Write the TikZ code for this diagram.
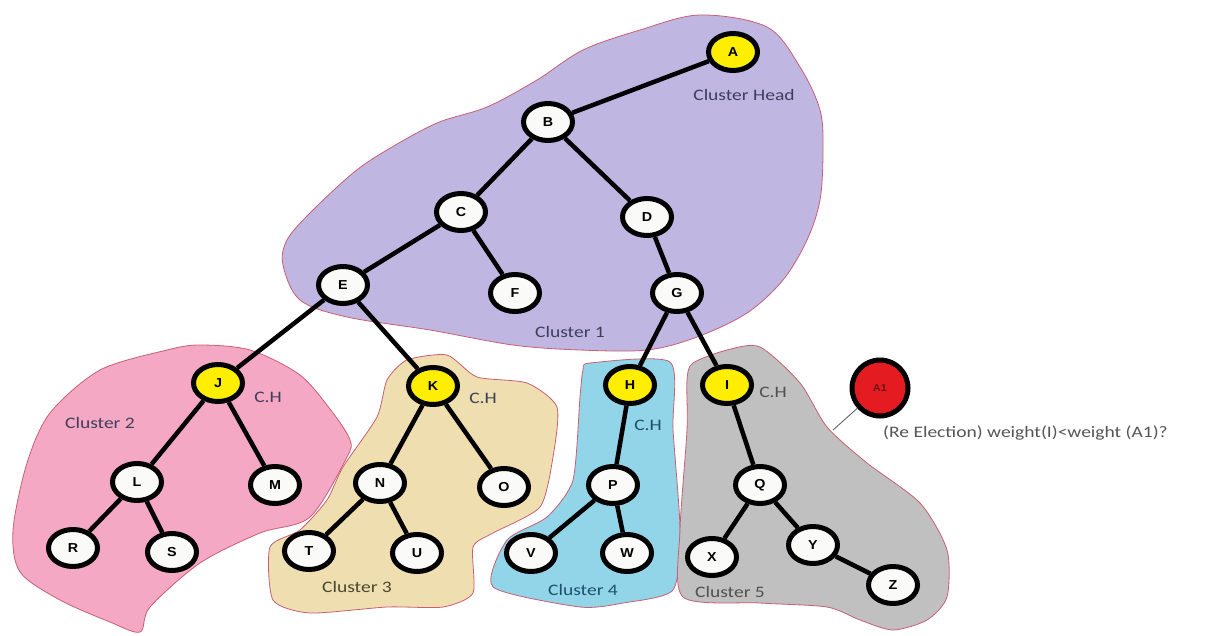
\documentclass[tikz,border=0pt]{standalone}
\usepackage{fontspec}
\setmainfont{Carlito}
\newfontfamily\lblfont[FakeStretch=1.22]{Carlito}
\newfontfamily\nodefont[FakeStretch=1.1]{Liberation Sans}
\usetikzlibrary{shapes.geometric}
\definecolor{cpurple}{RGB}{192,182,226}
\definecolor{cpink}{RGB}{245,168,196}
\definecolor{ctan}{RGB}{238,222,176}
\definecolor{cblue}{RGB}{146,212,232}
\definecolor{cgray}{RGB}{192,192,192}
\definecolor{regionline}{RGB}{200,95,115}
\definecolor{nodewhite}{RGB}{250,250,248}
\definecolor{chyellow}{RGB}{255,238,0}
\definecolor{cred}{RGB}{228,28,34}
\definecolor{lbltext}{RGB}{62,62,92}
\definecolor{notetext}{RGB}{85,85,85}
\begin{document}
\begin{tikzpicture}[x=1pt,y=-1pt,
  tnode/.style={ellipse, draw=black, line width=5pt, fill=nodewhite,
    minimum width=49pt, minimum height=37pt, inner sep=0pt,
    font=\nodefont\bfseries\fontsize{13}{13}\selectfont},
  chnode/.style={tnode, fill=chyellow},
  edge/.style={line width=4.5pt, black},
  region/.style={draw=regionline, line width=0.8pt},
  lbl/.style={font=\lblfont\fontsize{16}{18}\selectfont, text=lbltext, inner sep=0pt},
  note/.style={font=\lblfont\fontsize{16}{18}\selectfont, text=notetext, inner sep=0pt}]
\useasboundingbox (0,0) rectangle (1229,635);
\fill[white] (0,0) rectangle (1229,635);

% cluster regions
\filldraw[region, fill=cpurple] plot[smooth cycle, tension=0.55] coordinates {
  (283,265) (287,240) (310,213) (353,173) (387,150) (437,123) (487,107)
  (537,80) (583,50) (640,30) (700,15) (767,27) (800,67) (820,110) (823,150)
  (820,200) (807,240) (783,280) (747,313) (697,337) (647,350) (580,350)
  (513,345) (430,330) (347,317) (300,300)};
\filldraw[region, fill=cpink] plot[smooth cycle, tension=0.5] coordinates {
  (167,350) (200,345) (250,350) (300,375) (333,413) (350,440) (347,457)
  (310,517) (260,533) (200,563) (150,607) (140,632) (110,622) (60,600)
  (20,572) (13,530) (27,463) (50,413) (100,370)};
\filldraw[region, fill=ctan] plot[smooth cycle, tension=0.4] coordinates {
  (387,380) (407,360) (447,355) (477,377) (527,383) (557,407) (553,457)
  (540,507) (493,533) (473,547) (473,593) (443,607) (387,607) (310,613)
  (273,600) (270,547) (300,530) (327,500) (343,467) (377,417)};
\filldraw[region, fill=cblue] plot[smooth cycle, tension=0.4] coordinates {
  (583,370) (590,363) (670,362) (673,430) (680,530) (673,590) (623,603)
  (580,607) (493,587) (507,540) (547,517) (573,480) (580,397)};
\filldraw[region, fill=cgray] plot[smooth cycle, tension=0.45] coordinates {
  (693,363) (727,350) (760,347) (800,383) (827,427) (867,463) (920,503)
  (947,550) (947,597) (927,620) (893,630) (860,620) (827,607) (760,603)
  (683,597) (680,530) (687,430) (687,380)};

% nodes
\node[chnode] (A) at (733,52) {A};
\node[tnode] (B) at (548,122) {B};
\node[tnode] (C) at (461,212) {C};
\node[tnode] (D) at (647,217) {D};
\node[tnode] (E) at (343,285) {E};
\node[tnode] (F) at (515,293) {F};
\node[tnode] (G) at (677,293) {G};
\node[chnode] (J) at (218,383) {J};
\node[chnode] (K) at (433,386) {K};
\node[chnode] (H) at (630,385) {H};
\node[chnode] (I) at (727,385) {I};
\node[tnode] (L) at (137,482) {L};
\node[tnode] (M) at (275,485) {M};
\node[tnode] (N) at (380,483) {N};
\node[tnode] (O) at (504,487) {O};
\node[tnode] (P) at (613,485) {P};
\node[tnode] (Q) at (760,485) {Q};
\node[tnode] (R) at (73,548) {R};
\node[tnode] (S) at (172,552) {S};
\node[tnode] (T) at (309,551) {T};
\node[tnode] (U) at (417,553) {U};
\node[tnode] (V) at (531,553) {V};
\node[tnode] (W) at (627,553) {W};
\node[tnode] (X) at (712,557) {X};
\node[tnode] (Y) at (813,545) {Y};
\node[tnode] (Z) at (893,585) {Z};
\node[circle, draw=black, line width=5pt, fill=cred, minimum size=56pt, inner sep=0pt,
  font=\nodefont\bfseries\fontsize{10}{10}\selectfont, text={rgb,255:red,110;green,20;blue,20}]
  (A1) at (880,388) {A1};

% edges
\foreach \a/\b in {A/B, B/C, B/D, C/E, C/F, D/G, E/J, E/K, G/H, G/I,
  J/L, J/M, L/R, L/S, K/N, K/O, N/T, N/U, H/P, P/V, P/W, I/Q, Q/X, Q/Y, Y/Z}
  \draw[edge] (\a) -- (\b);

% annotation pointer
\coordinate (a1tip) at (833,430);
\draw[line width=0.8pt, notetext] (A1) -- (a1tip);

% labels
\node[lbl] (lhead) at (744,95) {Cluster Head};
\node[lbl] (l1) at (570,332) {Cluster 1};
\node[lbl] (l2) at (100,423) {Cluster 2};
\node[lbl, text={rgb,255:red,72;green,72;blue,48}] (l3) at (357,587) {Cluster 3};
\node[lbl, text={rgb,255:red,30;green,80;blue,110}] (l4) at (583,590) {Cluster 4};
\node[lbl, text={rgb,255:red,80;green,80;blue,80}] (l5) at (730,592) {Cluster 5};
\node[lbl] (chJ) at (268,397) {C.H};
\node[lbl] (chK) at (483,398) {C.H};
\node[lbl, text={rgb,255:red,30;green,80;blue,110}] (chH) at (648,425) {C.H};
\node[lbl, text={rgb,255:red,80;green,80;blue,80}] (chI) at (773,392) {C.H};
\node[note, anchor=west] (re) at (883,433) {(Re Election) weight(I)<weight (A1)?};
\end{tikzpicture}
\end{document}
